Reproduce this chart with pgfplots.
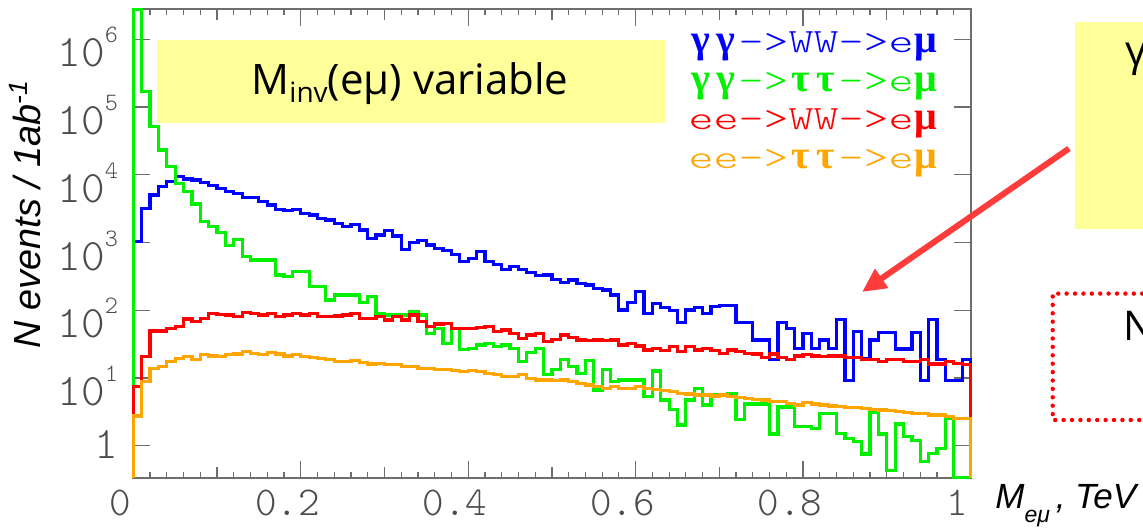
\documentclass[border=0pt]{standalone}
\usepackage{fontspec}
\setmainfont{Liberation Sans}
\newfontfamily\monof{lmmonolt10-regular}[Extension=.otf]
\newfontfamily\legf{lmmonolt10-regular}[Extension=.otf, FakeStretch=1.4]
\newfontfamily\grkf{Liberation Serif}
\newfontfamily\boxf{Open Sans}
\usepackage{pgfplots}
\pgfplotsset{compat=1.18}
\usepackage{pgfplotstable}
\usetikzlibrary{arrows.meta}

\definecolor{cb}{RGB}{0,0,255}
\definecolor{cg}{RGB}{0,240,0}
\definecolor{cr}{RGB}{255,0,0}
\definecolor{co}{RGB}{255,165,0}
\definecolor{axgray}{RGB}{110,110,110}
\definecolor{lblgray}{RGB}{75,75,75}
\definecolor{boxyel}{RGB}{255,255,153}
\definecolor{arr}{RGB}{255,60,60}

\newcommand{\ytf}{\monof\fontsize{22.5pt}{22.5pt}\selectfont}
\newcommand{\xtf}{\monof\fontsize{20.5pt}{20.5pt}\selectfont}
\newcommand{\ex}[1]{\raisebox{12pt}{\fontsize{12.5pt}{12.5pt}\selectfont #1}}
\newcommand{\cell}[1]{\makebox[12.5pt]{#1}}
\newcommand{\gk}[1]{\cell{\grkf\bfseries\fontsize{20pt}{20pt}\selectfont #1}}
\newcommand{\lf}{\legf\fontsize{17pt}{17pt}\selectfont}

% M(e mu) histograms, bin width 0.01; first/last rows close the steps
\pgfplotstableread{
x    b       g       r     o
0    0.33    0.33    0.33  0.33
0.00 1030    2.75e6  7.45  2.74
0.01 3200    1.69e5  20.7  8.83
0.02 5030    51400   49.4  13.9
0.03 6680    23200   49.4  14.7
0.04 7930    13200   54    17.4
0.05 9400    7480    57.2  19.5
0.06 8680    5640    74.2  20.7
0.07 8380    3710    67.8  18.5
0.08 7740    2030    75.8  21.9
0.09 6910    1720    90    21.1
0.10 6310    1420    87    20.7
0.11 5640    891     85    21.9
0.12 5330    1120    80.5  22.6
0.13 4650    620     92.2  24.5
0.14 4650    553     90    23.1
0.15 4020    553     85    21.9
0.16 3580    553     90    23.7
0.17 3090    332     80.5  22.6
0.18 2960    313     85    21.1
0.19 3030    372     90    21.9
0.20 2700    372     85    20.7
0.21 2550    223     90    20.2
0.22 2280    223     80.5  19.5
0.23 2150    142     80.5  18.9
0.24 1920    168     82.3  17.4
0.25 1720    168     85    17.4
0.26 1820    168     90    18.0
0.27 1530    130     75.8  16.8
0.28 1150    159     75.8  16.1
0.29 1290    90      80.5  16.5
0.30 1500    85      71.8  15.6
0.31 1250    85      80.5  15.6
0.32 795     85      71.8  14.7
0.33 997     95      85    14.7
0.34 1070    85      67.8  13.9
0.35 921     45.6    57.2  13.9
0.36 822     54      62.7  13.4
0.37 760     32.5    64.1  13.4
0.38 656     54      54    12.8
0.39 523     26.5    54    12.4
0.40 585     27.4    54    12.8
0.41 734     30.7    56    12.4
0.42 523     32.5    57.2  11.7
0.43 467     29      48.3  11.1
0.44 403     30.7    51.1  10.5
0.45 441     27.4    45.6  10.5
0.46 394     17.4    38.5  11.1
0.47 360     23.7    43.2  9.89
0.48 328     27.4    45.6  9.33
0.49 332     11.1    34.4  9.33
0.50 287     13.4    37.2  9.13
0.51 256     18.5    43.2  9.33
0.52 280     14.7    39.9  8.83
0.53 250     11.7    36.4  8.34
0.54 236     18.0    35.6  7.88
0.55 211     6.65    36.4  7.45
0.56 199     13.4    35.6  7.04
0.57 168     8.83    36.4  7.45
0.58 101     9.33    30.7  7.04
0.59 130     9.33    32.5  7.04
0.60 188     9.33    29.7  7.45
0.61 90      5.3     25.9  7.04
0.62 124     12.7    27.4  6.81
0.63 111     4.73    25.3  6.50
0.64 99      3.44    29    6.28
0.65 65      2.02    24.5  5.94
0.66 101     4.73    29    5.81
0.67 111     6.95    25.9  5.61
0.68 90      3.99    27.4  5.61
0.69 113     5.61    25.3  5.42
0.70 118     5.61    23.1  5.61
0.71 118     5.81    25.9  5.30
0.72 65      2.45    24.5  5.18
0.73 65      4.13    23.1  5.01
0.74 36.4    4.13    22.6  4.84
0.75 36.4    4.13    20.2  4.73
0.76 18.5    1.49    22.6  4.47
0.77 65      3.73    20.2  4.47
0.78 54      3.73    18.5  4.23
0.79 27.4    1.91    21.1  3.99
0.80 45.7    1.91    21.9  4.32
0.81 27.4    1.81    21.1  4.13
0.82 36.4    3.01    20.7  3.99
0.83 27.4    3.01    21.1  3.86
0.84 72      1.52    21.1  3.78
0.85 9.1     1.29    20.2  3.69
0.86 48.4    1.15    20.2  3.69
0.87 19.5    0.755   18.9  3.57
0.88 36.4    3.11    18.9  3.44
0.89 47.3    1.49    17.4  3.37
0.90 47.3    0.43    18.5  3.29
0.91 26.8    2.09    18.5  3.18
0.92 26.8    1.36    17.4  3.07
0.93 47.3    1.19    17.4  3.01
0.94 9.1     0.58    18.9  3.01
0.95 72      0.77    16.1  2.84
0.96 18.5    0.92    16.1  2.84
0.97 9.1     2.54    17.4  2.69
0.98 9.1     0.34    16.5  2.54
0.99 18.5    0.34    15.6  2.54
1.00 18.5    0.34    15.6  2.54
1.00 0.33    0.33    0.33  0.33
}\hist

\begin{document}
\begin{tikzpicture}
\useasboundingbox (0,0) rectangle (571.5pt,264.5pt);

\begin{axis}[
  at={(66.65pt,25.35pt)}, anchor=south west,
  scale only axis, width=418.6pt, height=234.65pt,
  xmin=0, xmax=1,
  ymode=log, ymin=0.33, ymax=2.8e6,
  clip=false,
  axis line style={draw=axgray, line width=1pt},
  every tick/.style={draw=axgray, line width=0.6pt},
  tick align=inside,
  major tick length=8.5pt, minor tick length=3pt,
  xtick={0,0.2,0.4,0.6,0.8,1},
  xticklabels={0,0.2,0.4,0.6,0.8,1},
  minor x tick num=9,
  extra x ticks={0.1,0.3,0.5,0.7,0.9},
  extra x tick labels={,,,,},
  extra x tick style={major tick length=5.5pt},
  ytick={1,10,100,1000,10000,100000,1000000},
  yticklabels={\raisebox{7.55pt}{1},10\ex{1},10\ex{2},10\ex{3},10\ex{4},10\ex{5},10\ex{6}},
  yminorticks=false,
  xticklabel style={font=\xtf, color=lblgray, anchor=north, inner sep=0pt, yshift=-5.8pt, xshift=-6.5pt},
  yticklabel style={font=\ytf, color=lblgray, anchor=base east, inner sep=0pt, xshift=-7.5pt, yshift=-13.85pt},
]
\addplot[const plot, draw=cb, line width=1.6pt] table[x=x, y=b] {\hist};
\addplot[const plot, draw=cg, line width=1.6pt] table[x=x, y=g] {\hist};
\addplot[const plot, draw=cr, line width=1.6pt] table[x=x, y=r] {\hist};
\addplot[const plot, draw=co, line width=1.6pt] table[x=x, y=o] {\hist};
\end{axis}

% label box inside the plot
\fill[boxyel] (78.5pt,203pt) rectangle (332.5pt,244.5pt);
\node[anchor=base, inner sep=0pt] at (205pt,217pt)
  {\boxf\fontsize{21pt}{21pt}\selectfont M\raisebox{-4pt}{\fontsize{14pt}{14pt}\selectfont inv}(eμ) variable};

% legend text
\node[anchor=base east, inner sep=0pt, text=cb] at (469.5pt,238pt) {\lf\gk{γ}\gk{γ}->WW->e\gk{μ}};
\node[anchor=base east, inner sep=0pt, text=cg] at (469.5pt,218.65pt) {\lf\gk{γ}\gk{γ}->\gk{τ}\gk{τ}->e\gk{μ}};
\node[anchor=base east, inner sep=0pt, text=cr] at (469.5pt,199.5pt) {\lf ee->WW->e\gk{μ}};
\node[anchor=base east, inner sep=0pt, text=co] at (469.5pt,180.35pt) {\lf ee->\gk{τ}\gk{τ}->e\gk{μ}};

% axis titles
\node[rotate=90, anchor=base, inner sep=0pt] at (20pt,157.5pt)
  {\fontsize{18.9pt}{18.9pt}\selectfont\itshape N events / 1ab\textsuperscript{-1}};
\node[anchor=base west, inner sep=0pt] at (497.5pt,10.5pt)
  {\fontsize{17.5pt}{17.5pt}\selectfont\itshape M\raisebox{-7pt}{\fontsize{11.5pt}{11.5pt}\selectfont eμ}\,, TeV};

% right side, cut off by the page edge
\fill[boxyel] (537.5pt,149.75pt) rectangle (620pt,253.5pt);
\node[anchor=base west, inner sep=0pt] at (562.5pt,231.5pt) {\boxf\fontsize{21pt}{21pt}\selectfont γ};
\draw[draw=cr, line width=2.2pt, line cap=round, dash pattern=on 0pt off 4.2pt]
  (620pt,54.5pt) -- (526.35pt,54.5pt) -- (526.35pt,117.7pt) -- (620pt,117.7pt);
\node[anchor=base west, inner sep=0pt] at (561.5pt,94pt) {\boxf\fontsize{20.5pt}{20.5pt}\selectfont N};
\draw[draw=arr, line width=3pt, -{Triangle[length=12pt,width=11pt]}] (534.5pt,190.25pt) -- (431pt,118.5pt);
\end{tikzpicture}
\end{document}
